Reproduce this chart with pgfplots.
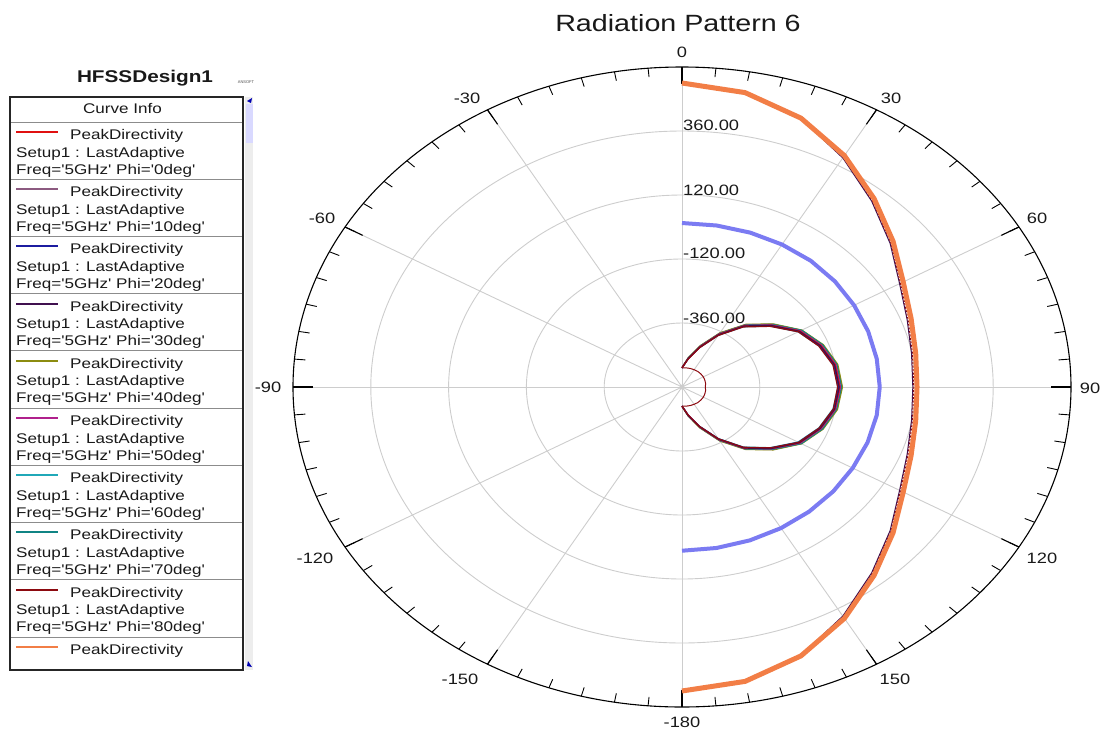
\documentclass[border=0pt]{standalone}
\usepackage{fontspec}
\setmainfont{Liberation Sans}
\usepackage{graphicx}
\usepackage{pgfplots}
\usepackage{pgfplotstable}
\pgfplotsset{compat=1.18}

\definecolor{cOrange}{HTML}{F27E46}
\definecolor{cBlue}{HTML}{7B7BF2}
\definecolor{gridc}{HTML}{CDCDCD}
\definecolor{c0}{HTML}{E01010}
\definecolor{c10}{HTML}{8C5A80}
\definecolor{c20}{HTML}{1C1CA0}
\definecolor{c30}{HTML}{40104F}
\definecolor{c40}{HTML}{8C8C10}
\definecolor{c50}{HTML}{B0208C}
\definecolor{c60}{HTML}{20A8B8}
\definecolor{c70}{HTML}{108484}
\definecolor{c80}{HTML}{8C0A10}

\newcommand\sx[1]{\scalebox{1.22}[1]{#1}}
\newcommand\lf{\fontsize{14}{16}\selectfont}
\newcommand\af{\fontsize{15}{17}\selectfont}
\newcommand\q{\textquotesingle}

% outer PeakDirectivity (orange)
\pgfplotstableread{
th v
0 540
10 521
20 473
30 402
40 322
50 250
60 188
70 152
80 132
90 125
100 132
110 152
120 188
130 250
140 322
150 402
160 473
170 521
180 540
}\orangeT

% thin traces running just inside the orange one
\pgfplotstableread{
th a b
0 539 539
10 520 520
20 471 472
30 392 395
40 310 313
50 238 241
60 175 178
70 139 142
80 119 122
90 112 115
100 119 122
110 139 142
120 175 178
130 238 241
140 310 313
150 392 395
160 471 472
170 520 520
180 539 539
}\innerT

% blue trace
\pgfplotstableread{
th v
0 15
10 15
20 16
30 17
40 18
50 16
60 13
70 11
80 10
90 10
100 10
110 9
120 8
130 9
140 10
150 11
160 12
170 13
180 14
}\blueT

% Phi = 0..80 deg traces
\pgfplotstableread{
th p0 p10 p20 p30 p40 p50 p60 p70 p80
0 -528 -527 -529 -528 -527 -528 -529 -528 -528
10 -492 -489 -494 -491 -488 -493 -492 -490 -495
20 -440 -436 -443 -441 -435 -439 -442 -437 -444
30 -372 -367 -375 -373 -365 -370 -376 -368 -377
40 -300 -295 -303 -301 -293 -298 -305 -296 -306
50 -240 -234 -243 -241 -232 -238 -245 -235 -246
60 -180 -175 -184 -182 -173 -178 -186 -174 -186
70 -144 -138 -148 -146 -136 -142 -150 -138 -151
80 -120 -114 -124 -122 -112 -118 -126 -115 -127
90 -113 -107 -117 -115 -105 -111 -119 -108 -120
100 -121 -115 -125 -122 -113 -119 -127 -116 -126
110 -145 -139 -149 -146 -137 -143 -151 -139 -150
120 -181 -176 -185 -182 -174 -179 -187 -175 -185
130 -241 -235 -244 -241 -233 -239 -246 -236 -245
140 -301 -296 -304 -301 -294 -299 -306 -297 -305
150 -373 -368 -376 -373 -366 -371 -377 -369 -376
160 -441 -437 -444 -441 -436 -440 -443 -438 -443
170 -493 -490 -495 -491 -489 -494 -493 -491 -494
180 -528 -527 -529 -528 -527 -528 -529 -528 -528
}\lobeT

% small inner notch
\pgfplotstableread{
th v
0 -528
10 -527
20 -526
30 -525
40 -524
50 -524
60 -524
70 -525
80 -526
90 -528
100 -526
110 -525
120 -524
130 -524
140 -524
150 -525
160 -526
170 -527
180 -528
}\notchT

\begin{document}
\begin{tikzpicture}
\useasboundingbox (0pt,0pt) rectangle (1101pt,-729pt);
% ---------- polar grid (pixel frame) ----------
\begin{scope}[x=1pt,y=-1pt]
  \foreach \k in {1,2,3,4}
    \draw[gridc, line width=0.9pt] (682,387) ellipse [x radius={77.8*\k}, y radius={64*\k}];
  \foreach \a in {0,30,...,330}
    \draw[gridc, line width=0.9pt] (682,387) -- ({682+389*sin(\a)},{387-320*cos(\a)});
  \fill[gridc] (682,387) circle (2.5);
  \draw[black, line width=1.1pt] (682,387) ellipse [x radius=389, y radius=320];
  \foreach \a in {0,5,...,355}
    \draw[black, line width=0.9pt] ({682+389*sin(\a)},{387-320*cos(\a)}) -- ({682+389*0.972*sin(\a)},{387-320*0.972*cos(\a)});
  \foreach \a in {0,30,...,330}
    \draw[black, line width=1.1pt] ({682+389*sin(\a)},{387-320*cos(\a)}) -- ({682+389*0.948*sin(\a)},{387-320*0.948*cos(\a)});
\end{scope}
% ---------- data ----------
\begin{axis}[at={(682pt,-387pt)}, anchor=origin,
  x=0.324167pt, y=0.266667pt,
  xmin=-1200, xmax=1200, ymin=-1200, ymax=1200,
  hide axis, clip=false]
  \addplot[cBlue, line width=4pt, line join=round, data cs=polar]
    table[x expr={90-\thisrow{th}}, y expr={\thisrow{v}+600}] {\blueT};
  \addplot[c30, line width=1pt, data cs=polar]
    table[x expr={90-\thisrow{th}}, y expr={\thisrow{a}+600}] {\innerT};
  \addplot[c80, line width=1pt, dash pattern=on 2pt off 1.5pt, data cs=polar]
    table[x expr={90-\thisrow{th}}, y expr={\thisrow{b}+600}] {\innerT};
  \addplot[cOrange, line width=5pt, line join=round, data cs=polar]
    table[x expr={90-\thisrow{th}}, y expr={\thisrow{v}+600}] {\orangeT};
  \pgfplotsinvokeforeach{10,40,60,70,20,50,0,30,80}{
    \addplot[c#1, line width=1.2pt, data cs=polar]
      table[x expr={90-\thisrow{th}}, y expr={\thisrow{p#1}+600}] {\lobeT};
  }
  \addplot[c80, line width=1pt, data cs=polar]
    table[x expr={90-\thisrow{th}}, y expr={\thisrow{v}+600}] {\notchT};
\end{axis}
% ---------- labels & legend ----------
\begin{scope}[x=1pt,y=-1pt]
  \node[text=black!90] at (678,23.5) {\fontsize{23.5}{26}\selectfont\sx{Radiation Pattern 6}};
  \foreach \x/\y/\t in {682/52/0, 891/98/30, 1037/218/60, 1090/388/90, 1042/558/120, 895/679/150, 682/722/-180, 460/679/-150, 315/558/-120, 268/387/-90, 322/218/-60, 467/98/-30}
    \node[text=black!90, inner sep=0] at (\x,\y) {\af\sx{\t}};
  \foreach \y/\t in {125/360.00, 190/120.00, 253/-120.00, 318/-360.00}
    \node[anchor=west, inner sep=0, text=black!90] at (683,\y) {\af\sx{\t}};
  % legend
  \node[inner sep=0, text=black!90] at (145,78) {\fontsize{17}{19}\selectfont\bfseries\sx{HFSSDesign1}};
  \node[inner sep=0, text=black!70] at (246,82) {\fontsize{4}{5}\selectfont ANSOFT};
  \fill[black!7] (244.5,97) rectangle (252.5,670);
  \fill[blue!15] (246,104) rectangle (252.5,143);
  \fill[blue!70!black] (247,101) -- (252,98) -- (251,103) -- cycle;
  \fill[blue!70!black] (248,661) -- (252,667) -- (247,666) -- cycle;
  \node[anchor=base, inner sep=0, text=black!90] at (122.5,113.5) {\lf\sx{Curve Info}};
  \foreach \i/\c/\p in {0/c0/0,1/c10/10,2/c20/20,3/c30/30,4/c40/40,5/c50/50,6/c60/60,7/c70/70,8/c80/80}{
    \pgfmathsetmacro\T{122+57.2*\i}
    \draw[black!45, line width=0.8pt] (10,\T) -- (243,\T);
    \draw[\c, line width=2pt] (16,\T+10) -- (58,\T+10);
    \node[anchor=base west, inner sep=0, text=black!90] at (70,\T+17.5) {\lf\sx{PeakDirectivity}};
    \node[anchor=base west, inner sep=0, text=black!90] at (16,\T+35) {\lf\sx{Setup1 : LastAdaptive}};
    \node[anchor=base west, inner sep=0, text=black!90] at (16,\T+52) {\lf\sx{Freq=\q 5GHz\q{} Phi=\q\p deg\q}};
  }
  \draw[black!45, line width=0.8pt] (10,637) -- (243,637);
  \draw[cOrange, line width=2pt] (16,647) -- (58,647);
  \node[anchor=base west, inner sep=0, text=black!90] at (70,654.5) {\lf\sx{PeakDirectivity}};
  \draw[black!85, line width=1.3pt] (10,97) rectangle (243,670);
\end{scope}
\end{tikzpicture}
\end{document}
